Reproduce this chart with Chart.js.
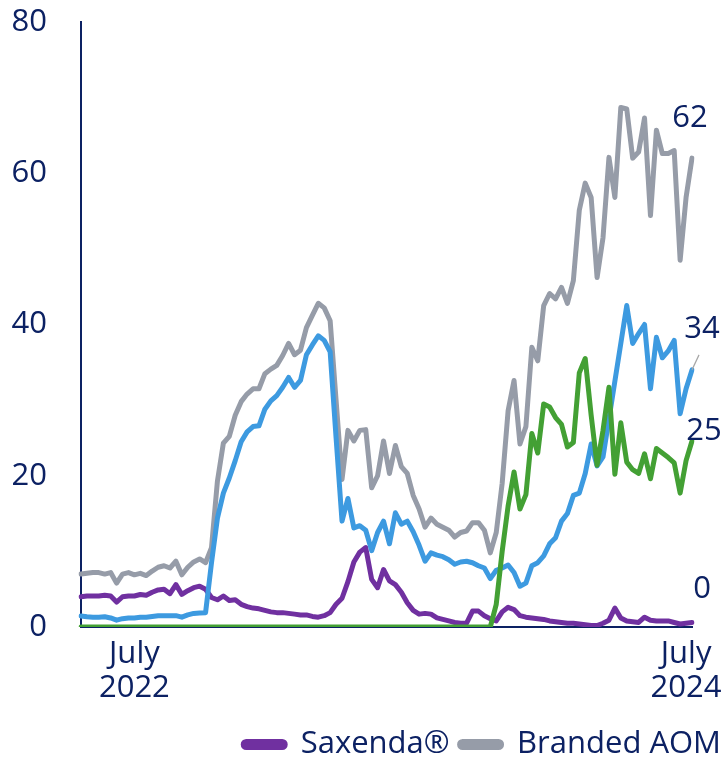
<!DOCTYPE html>
<html>
<head>
<meta charset="utf-8">
<script src="https://cdn.jsdelivr.net/npm/chart.js@4.4.1/dist/chart.umd.min.js"></script>
<style>
    html, body { margin: 0; padding: 0; background: #fff; }
    .chart-wrap { position: relative; width: 723px; height: 762px; }
</style>
</head>
<body>
<div class="chart-wrap"><canvas id="chart"></canvas></div>
<script>

// weekly values, mid April 2022 - July 2024
const weeks = Array.from({ length: 104 }, (_, i) => 'W' + (i + 1));

// only two ticks carry a label
const tickLabels = { 9: ['July', '2022'], 102: ['July', '2024'] };

const saxenda = [
    4.0, 4.1, 4.1, 4.1, 4.2, 4.1, 3.3, 4.0, 4.1, 4.1,
    4.3, 4.2, 4.6, 4.9, 5.0, 4.4, 5.6, 4.3, 4.8, 5.2,
    5.4, 5.0, 3.9, 3.6, 4.1, 3.5, 3.6, 3.0, 2.7, 2.5,
    2.4, 2.2, 2.0, 1.9, 1.9, 1.8, 1.7, 1.6, 1.6, 1.4,
    1.3, 1.5, 1.9, 3.0, 3.8, 6.0, 8.6, 9.9, 10.5, 6.3,
    5.2, 7.6, 6.1, 5.6, 4.6, 3.2, 2.2, 1.7, 1.8, 1.7,
    1.2, 1.0, 0.8, 0.6, 0.5, 0.5, 2.1, 2.1, 1.5, 1.1,
    0.8, 2.0, 2.6, 2.3, 1.5, 1.3, 1.2, 1.1, 1.0, 0.8,
    0.7, 0.6, 0.5, 0.5, 0.4, 0.3, 0.2, 0.2, 0.5, 0.9,
    2.5, 1.2, 0.8, 0.7, 0.6, 1.3, 0.9, 0.8, 0.8, 0.8,
    0.6, 0.4, 0.5, 0.6
];

const brandedAom = [
    7.0, 7.1, 7.2, 7.2, 7.0, 7.2, 5.8, 7.0, 7.2, 6.9,
    7.1, 6.8, 7.4, 7.9, 8.1, 7.8, 8.7, 6.9, 7.9, 8.6,
    9.0, 8.5, 10.5, 19.3, 24.3, 25.2, 28.0, 29.8, 30.8, 31.5,
    31.5, 33.5, 34.1, 34.6, 35.9, 37.5, 36.0, 36.6, 39.6, 41.2,
    42.8, 42.2, 40.5, 30.0, 19.5, 26.0, 24.6, 26.0, 26.1, 18.4,
    20.0, 24.6, 20.3, 24.0, 21.2, 20.3, 17.4, 15.6, 13.2, 14.4,
    13.6, 13.2, 12.8, 11.9, 12.5, 12.7, 13.8, 13.8, 12.8, 9.8,
    12.5, 19.0, 28.6, 32.6, 24.2, 26.5, 37.0, 35.2, 42.5, 44.1,
    43.4, 44.9, 42.8, 45.8, 55.1, 58.7, 56.8, 46.2, 51.5, 62.1,
    56.8, 68.7, 68.5, 62.0, 62.8, 67.3, 54.4, 65.7, 62.6, 62.6,
    63.0, 48.5, 56.8, 62.0
];

const wegovy = [
    1.45, 1.35, 1.3, 1.3, 1.35, 1.2, 0.9, 1.1, 1.2, 1.2,
    1.3, 1.3, 1.4, 1.5, 1.5, 1.5, 1.5, 1.3, 1.6, 1.8,
    1.85, 1.9, 8.5, 14.4, 17.7, 19.7, 22.0, 24.5, 25.8, 26.5,
    26.6, 28.8, 29.9, 30.6, 31.7, 33.0, 31.7, 32.6, 36.0, 37.3,
    38.5, 37.9, 36.4, 25.0, 14.0, 17.0, 13.1, 13.4, 12.8, 10.1,
    12.5, 14.0, 11.0, 15.1, 13.6, 14.0, 12.6, 10.8, 8.7, 9.8,
    9.5, 9.3, 8.9, 8.3, 8.6, 8.7, 8.5, 8.1, 7.8, 6.4,
    7.5, 7.8, 8.2, 7.2, 5.4, 5.8, 8.1, 8.5, 9.4, 11.0,
    11.8, 14.0, 15.0, 17.4, 17.7, 20.3, 24.2, 21.3, 22.5, 27.5,
    32.5, 37.5, 42.5, 37.5, 38.8, 40.0, 31.5, 38.3, 35.6, 36.5,
    37.9, 28.2, 31.5, 34.0
];

const zepbound = [
    0, 0, 0, 0, 0, 0, 0, 0, 0, 0,
    0, 0, 0, 0, 0, 0, 0, 0, 0, 0,
    0, 0, 0, 0, 0, 0, 0, 0, 0, 0,
    0, 0, 0, 0, 0, 0, 0, 0, 0, 0,
    0, 0, 0, 0, 0, 0, 0, 0, 0, 0,
    0, 0, 0, 0, 0, 0, 0, 0, 0, 0,
    0, 0, 0, 0, 0, 0, 0, 0, 0, 0,
    3.0, 10.0, 16.0, 20.5, 15.6, 17.5, 25.6, 23.0, 29.5, 29.1,
    27.7, 26.8, 23.8, 24.4, 33.6, 35.5, 28.0, 21.4, 26.0, 31.7,
    20.2, 27.0, 21.8, 20.8, 20.3, 22.9, 19.6, 23.6, 23.0, 22.4,
    21.7, 17.7, 22.0, 24.6
];

// end-of-line labels
const endLabels = ['62', '34', '25', '0'];

const navy = '#0c2163';
const fontFamily = '"Open Sans", "Noto Sans", sans-serif';
const fontSize = 31;

// draws the value next to the end of each series
const endLabelPlugin = {
    id: 'endLabels',
    afterDatasetsDraw(chart, args, opts) {
        const ctx = chart.ctx;
        const yScale = chart.scales.y;
        const xScale = chart.scales.x;
        ctx.save();
        ctx.font = fontSize + 'px ' + fontFamily;
        ctx.fillStyle = navy;
        ctx.textAlign = 'center';
        ctx.textBaseline = 'middle';
        opts.items.forEach(item => {
            const data = chart.data.datasets[item.dataset].data;
            const last = data.length - 1;
            const px = xScale.getPixelForValue(last);
            const py = yScale.getPixelForValue(data[last]);
            if (item.leader) {
                ctx.strokeStyle = '#a6a6a6';
                ctx.lineWidth = 1.2;
                ctx.beginPath();
                ctx.moveTo(px, py);
                ctx.lineTo(px + item.leader[0], py + item.leader[1]);
                ctx.stroke();
            }
            ctx.fillText(item.text, px + item.dx, py + item.dy);
        });
        ctx.restore();
    }
};

const ctx = document.getElementById('chart');

new Chart(ctx, {
    type: 'line',
    data: {
        labels: weeks,
        datasets: [
            { label: 'Saxenda®', data: saxenda, borderColor: '#7030a0', backgroundColor: '#7030a0', order: 2 },
            { label: 'Branded AOM', data: brandedAom, borderColor: '#969ca8', backgroundColor: '#969ca8', order: 3 },
            { label: 'Wegovy®', data: wegovy, borderColor: '#3d9ae0', backgroundColor: '#3d9ae0', order: 1 },
            { label: 'Zepbound®', data: zepbound, borderColor: '#43a034', backgroundColor: '#43a034', order: 0 }
        ]
    },
    options: {
        responsive: true,
        maintainAspectRatio: false,
        animation: false,
        elements: {
            line: { borderWidth: 5, tension: 0, borderJoinStyle: 'round', borderCapStyle: 'round' },
            point: { radius: 0 }
        },
        layout: { padding: { left: 12, right: -8, top: 4, bottom: -8 } },
        scales: {
            x: {
                grid: { display: false, drawTicks: false },
                border: { display: true, color: navy, width: 2 },
                ticks: {
                    autoSkip: false,
                    maxRotation: 0,
                    padding: 10,
                    color: navy,
                    font: { family: fontFamily, size: fontSize, lineHeight: 1.1 },
                    callback: (value, index) => tickLabels[index] || ''
                },
                // fixed band for the two-line labels, room on the right for end labels
                afterFit: scale => {
                    scale.height = 92;
                    scale.paddingRight = 31;
                    scale.paddingLeft = 0;
                }
            },
            y: {
                min: 0,
                max: 80,
                grid: { display: false, drawTicks: false },
                border: { display: true, color: navy, width: 2 },
                ticks: {
                    stepSize: 20,
                    padding: 34,
                    color: navy,
                    font: { family: fontFamily, size: fontSize }
                },
                afterFit: scale => {
                    scale.width = 69;
                    scale.paddingTop = 22;
                    scale.paddingBottom = 0;
                }
            }
        },
        plugins: {
            legend: {
                position: 'bottom',
                align: 'end',
                labels: {
                    color: navy,
                    font: { family: fontFamily, size: fontSize },
                    boxWidth: 42,
                    boxHeight: 6,
                    useBorderRadius: true,
                    borderRadius: 3,
                    padding: 10,
                    filter: item => item.text === 'Saxenda®' || item.text === 'Branded AOM'
                }
            },
            tooltip: { enabled: false },
            endLabels: {
                items: [
                    { dataset: 1, text: endLabels[0], dx: -2, dy: -40 },
                    { dataset: 2, text: endLabels[1], dx: 10, dy: -41, leader: [7, -15] },
                    { dataset: 3, text: endLabels[2], dx: 12, dy: -10 },
                    { dataset: 0, text: endLabels[3], dx: 10, dy: -33 }
                ]
            }
        }
    },
    plugins: [endLabelPlugin]
});
</script>
</body>
</html>
